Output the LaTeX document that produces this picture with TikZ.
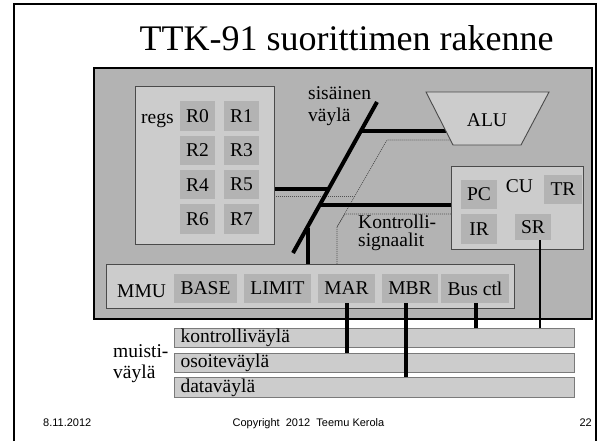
\documentclass[tikz,border=0pt]{standalone}
\usepackage{fontspec}
\setmainfont{Liberation Serif}
\setsansfont{Liberation Sans}
\definecolor{midgray}{HTML}{B3B3B3}
\definecolor{lightgray2}{HTML}{CCCCCC}
\definecolor{boxline}{HTML}{4A4A4A}
\definecolor{busedge}{HTML}{7A7A7A}
\definecolor{dotgray}{HTML}{505050}
\newcommand\tf{\fontsize{19.5}{21}\selectfont}
\begin{document}
\begin{tikzpicture}[x=1pt,y=-1pt,
  txt/.style={inner sep=0, font=\tf},
  mainbox/.style={draw=black, line width=1.6, fill=midgray, anchor=north west, inner sep=0},
  lbox/.style={draw=boxline, line width=0.9, fill=lightgray2, anchor=north west, inner sep=0},
  cell/.style={fill=midgray, inner sep=0, minimum height=29.5, font=\tf},
  busbox/.style={draw=busedge, line width=1, fill=lightgray2, anchor=north west, inner ysep=0, inner xsep=6, text width=388, align=left, minimum height=19, font=\tf},
  wire/.style={line width=4, line cap=butt},
  thinwire/.style={line width=1.5},
  ctlline/.style={draw=dotgray, line width=0.7, dash pattern=on 1pt off 1pt},
  footer/.style={inner sep=0, font=\sffamily\fontsize{11}{13}\selectfont}
]
\useasboundingbox (0,0) rectangle (602,444);
\fill[white] (0,0) rectangle (602,444);
% slide frame
\draw[line width=2] (13.5,441) -- (13.5,4) -- (596,4) -- (596,441);
% title
\node[inner sep=0, anchor=base, font=\fontsize{36}{40}\selectfont] (title) at (346.5,51) {TTK-91 suorittimen rakenne};
% main box
\node[mainbox, minimum width=498, minimum height=251] (cpu) at (93,67) {};
% registers
\node[lbox, minimum width=139, minimum height=158] (regs) at (135,86) {};
\node[txt, anchor=base west] (regslbl) at (141,123.5) {regs};
\node[cell, minimum width=35] (r0) at (197.5,116) {R0};
\node[cell, minimum width=35] (r1) at (241.5,116) {R1};
\node[cell, minimum width=35] (r2) at (197.5,150.3) {R2};
\node[cell, minimum width=35] (r3) at (241.5,150.3) {R3};
\node[cell, minimum width=35] (r4) at (197.5,184.6) {R4};
\node[cell, minimum width=35] (r5) at (241.5,184.6) {R5};
\node[cell, minimum width=35] (r6) at (197.5,219) {R6};
\node[cell, minimum width=35] (r7) at (241.5,219) {R7};
% coordinates of the internal bus
\coordinate (busTop) at (377,102);
\coordinate (busBot) at (293,253);
\coordinate (jA) at (360.9,131);
\coordinate (jR) at (328.6,189);
\coordinate (jC) at (319.7,205);
\coordinate (jM) at (307.5,228);
\coordinate (aluW) at (446,131);
% control signal (dotted) paths
\coordinate (dA) at (450.5,140);
\coordinate (dB) at (387,140);
\coordinate (dC) at (337,227);
\coordinate (dR) at (274,196);
\coordinate (dRj) at (355,196);
\coordinate (dU) at (345,214);
% CU
\node[lbox, minimum width=132, minimum height=83] (cu) at (451,166) {};
% MMU
\node[lbox, minimum width=408, minimum height=44] (mmu) at (106,264) {};
% dotted lines
\draw[ctlline] (dA) -- (dB) -- (dC) -- (dC |- mmu.north);
\draw[ctlline] (dR) -- (dRj);
\draw[ctlline] (cu.west |- dU) -- (dU) -- (dC);
% internal bus
\draw[wire] (busTop) -- (busBot);
\draw[wire] (jA) -- (aluW);
\draw[wire] (regs.east |- jR) -- (jR);
\draw[wire] (jC) -- (cu.west |- jC);
\draw[wire] (jM) -- (jM |- mmu.north);
% ALU
\draw[draw=boxline, line width=0.9, fill=lightgray2] (426,92) -- (549,92) -- (521,145) -- (453,145) -- cycle;
\node[txt] (alu) at (487,120) {ALU};
% bus label
\node[txt, anchor=base west, align=left] (sis) at (308,121) {sisäinen\\väylä};
\node[txt, anchor=base west, align=left, font=\fontsize{19.5}{17.5}\selectfont] (kon) at (358,246) {Kontrolli-\\signaalit};
% CU contents
\node[txt, anchor=base] (culbl) at (519.5,192) {CU};
\node[cell, minimum width=36] (pc) at (479,194.5) {PC};
\node[cell, minimum width=38] (tr) at (563,189.5) {TR};
\node[cell, minimum width=36] (ir) at (479,229) {IR};
\node[cell, minimum width=36, minimum height=26] (sr) at (533,227) {SR};
% MMU contents
\node[txt, anchor=base west] (mmulbl) at (117,297) {MMU};
\node[cell, minimum width=63] (base) at (205.5,288.5) {BASE};
\node[cell, minimum width=67] (limit) at (277.5,288.5) {LIMIT};
\node[cell, minimum width=57] (mar) at (346.5,288.5) {MAR};
\node[cell, minimum width=56] (mbr) at (410,288.5) {MBR};
\node[cell, minimum width=68] (busctl) at (475,288.5) {Bus ctl};
% memory buses
\node[busbox] (kbus) at (174,328) {kontrolliväylä};
\node[busbox] (obus) at (174,353) {osoiteväylä};
\node[busbox, minimum height=20] (dbus) at (174,377) {dataväylä};
\node[txt, anchor=base west, align=left] (mv) at (113,378) {muisti-\\väylä};
% connections to memory buses
\draw[wire] (mar.south) -- (mar.south |- obus.north);
\draw[wire] ([xshift=-4]mbr.south) -- ([xshift=-4]mbr.south |- dbus.north);
\draw[wire] ([xshift=1]busctl.south) -- ([xshift=1]busctl.south |- kbus.north);
\draw[thinwire] ([xshift=7]sr.south) -- ([xshift=7]sr.south |- kbus.north);
% footer
\node[footer, anchor=base west] (date) at (43,426.5) {8.11.2012};
\node[footer, anchor=base] (copy) at (308.5,426.5) {Copyright\ \ 2012\ \ Teemu Kerola};
\node[footer, anchor=base east] (page) at (592,426.5) {22};
\end{tikzpicture}
\end{document}
